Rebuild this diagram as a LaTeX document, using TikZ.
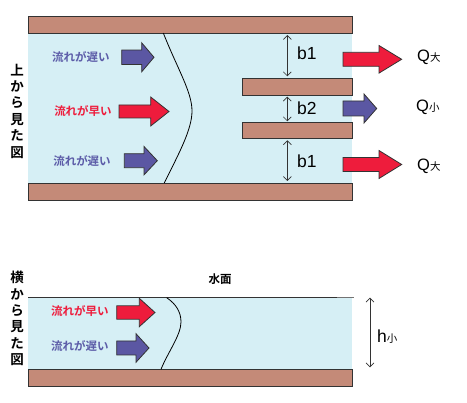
\documentclass[tikz,border=0pt]{standalone}
\usepackage{fontspec}
\setmainfont{Liberation Sans}
\newfontfamily\jp{Noto Sans CJK JP}[BoldFont={Noto Sans CJK JP Bold}]
\usetikzlibrary{arrows.meta}
\definecolor{wall}{HTML}{C48A78}
\definecolor{water}{HTML}{D6EFF5}
\definecolor{fast}{HTML}{EE1C3C}
\definecolor{slow}{HTML}{5B57A3}
\definecolor{slowtext}{HTML}{5C5CA8}
\definecolor{edge}{HTML}{333333}
% small index after Q and h
\newcommand{\jpidx}[1]{{\jp\fontsize{10.5}{12}\selectfont #1}}
% fat arrow: colour, x start, x head, x tip, y centre, half shaft, half head
\newcommand{\flowarrow}[7]{%
\filldraw[fill=#1,draw=edge,line width=.8pt,line join=miter]
 (#2,#5-#6) -- (#3,#5-#6) -- (#3,#5-#7) -- (#4,#5) -- (#3,#5+#7) -- (#3,#5+#6) -- (#2,#5+#6) -- cycle;}
\tikzset{
 wallbox/.style={fill=wall,draw=edge,line width=.8pt},
 speed/.style={font=\jp\bfseries\fontsize{11.5}{13}\selectfont,inner sep=0pt},
 side/.style={font=\jp\bfseries\fontsize{13.5}{16.4}\selectfont,align=center,inner sep=0pt},
 dim/.style={{Straight Barb[length=4pt,width=8pt]}-{Straight Barb[length=4pt,width=8pt]},line width=.7pt,draw=edge,shorten >=2pt,shorten <=2pt},
 big/.style={font=\fontsize{17.5}{20}\selectfont,inner sep=0pt,anchor=base west},
 qlabel/.style={big,font=\fontsize{16.5}{18}\selectfont}
}
\begin{document}
\begin{tikzpicture}[x=1pt,y=-1pt]
\useasboundingbox (0,0) rectangle (467,403);
% top view
\fill[water] (28,33) rectangle (352,183);
\draw[wallbox] (28,16) rectangle (352,33);
\draw[wallbox] (242,78.3) rectangle (352,95.7);
\draw[wallbox] (242,122.3) rectangle (352,138.3);
\draw[wallbox] (28,183) rectangle (352,200);
\draw[line width=.8pt] (163.3,33) .. controls (178,70) and (192,92) .. (192,111)
 .. controls (192,130) and (178,155) .. (164.3,183);
\flowarrow{slow}{121.7}{141.7}{154}{57.3}{7.2}{14.5}
\flowarrow{fast}{119}{150.7}{169}{111.5}{6.5}{14.5}
\flowarrow{slow}{124.3}{144}{157.3}{160.7}{7}{14.2}
\flowarrow{fast}{343}{379}{401.7}{59.3}{7}{13.8}
\flowarrow{slow}{343}{364}{376.7}{108.5}{7.5}{14.5}
\flowarrow{fast}{343}{379}{401.7}{164.5}{7}{14}
\node[speed,text=slowtext] (slowA) at (81,57.3){流れが遅い};
\node[speed,text=fast] (fastA) at (83,111.5){流れが早い};
\node[speed,text=slowtext] (slowB) at (82,160.7){流れが遅い};
\node[side] (top) at (17,111){上\\か\\ら\\見\\た\\図};
\coordinate (g1a) at (287.3,33);
\coordinate (g1b) at (287.3,78.3);
\coordinate (g2a) at (287.3,95.7);
\coordinate (g2b) at (287.3,122.3);
\coordinate (g3a) at (287.3,138.3);
\coordinate (g3b) at (287.3,183);
\draw[dim] (g1a) -- (g1b);
\draw[dim,shorten >=1pt,shorten <=1pt] (g2a) -- (g2b);
\draw[dim] (g3a) -- (g3b);
\node[big] (b1a) at (297,59.3){b1};
\node[big] (b2) at (297,115){b2};
\node[big] (b1b) at (297,167.3){b1};
\node[qlabel] (qa) at (417,61.7){Q\jpidx{大}};
\node[qlabel] (qb) at (416,111.7){Q\jpidx{小}};
\node[qlabel] (qc) at (417,171){Q\jpidx{大}};
% side view
\fill[water] (28,297.7) rectangle (352,369.3);
\draw[line width=.8pt,draw=edge] (28,297.7) -- (337,297.7);
\draw[line width=1pt,draw=black!55] (337,297.7) -- (354,297.7);
\draw[wallbox] (28,369.3) rectangle (352,386);
\draw[line width=.8pt] (166.7,297.7) .. controls (176,304) and (181,312) .. (181,322)
 .. controls (181,335) and (168,352) .. (161,369.3);
\flowarrow{fast}{116.7}{139.3}{155}{312.5}{6.7}{14.2}
\flowarrow{slow}{116.7}{136}{149}{348}{7}{14.3}
\node[speed,text=fast] (fastB) at (80,311.5){流れが早い};
\node[speed,text=slowtext] (slowC) at (80,346.5){流れが遅い};
\node[speed] (surf) at (220,279){水面};
\node[side] (sideview) at (17,318.5){横\\か\\ら\\見\\た\\図};
\coordinate (ha) at (370,297.7);
\coordinate (hb) at (370,367.3);
\draw[dim,shorten >=0pt,shorten <=0pt] (ha) -- (hb);
\node[big] (h) at (377,342.7){h\jpidx{小}};
\end{tikzpicture}
\end{document}
